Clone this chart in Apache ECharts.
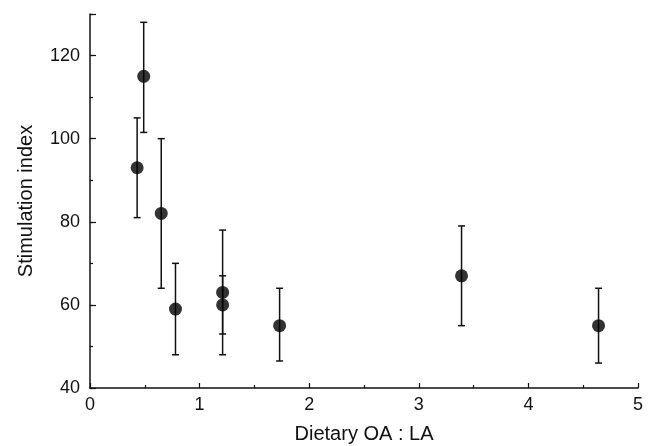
<!DOCTYPE html>
<html>
<head>
<meta charset="utf-8">
<script src="https://cdn.jsdelivr.net/npm/echarts@6/dist/echarts.min.js"></script>
<style>html,body{margin:0;padding:0;background:#fff}#c{width:652px;height:446px}</style>
</head>
<body>
<div id="c"></div>
<script>
var xValues = [0.43, 0.49, 0.65, 0.78, 1.21, 1.21, 1.73, 3.39, 4.64];
var means   = [93, 115, 82, 59, 63, 60, 55, 67, 55];
var upper   = [105, 128, 100, 70, 78, 67, 64, 79, 64];
var lower   = [81, 101.5, 64, 48, 48, 53, 46.5, 55, 46];
var xTickLabels = ['0', '1', '2', '3', '4', '5'];
var yTickLabels = ['40', '60', '80', '100', '120'];

var pts = xValues.map(function (x, i) { return [x, means[i]]; });
var bars = xValues.map(function (x, i) { return [x, lower[i], upper[i]]; });
var font = 'Liberation Sans, Arial, Helvetica, sans-serif';

var chart = echarts.init(document.getElementById('c'), null, {renderer: 'canvas'});
chart.setOption({
  animation: false,
  backgroundColor: '#fff',
  grid: {left: 90, right: 14, top: 14, bottom: 58, containLabel: false, outerBoundsMode: 'none'},
  xAxis: {
    type: 'value', min: 0, max: 5, interval: 1,
    name: 'Dietary OA : LA', nameLocation: 'middle', nameGap: 36,
    nameTextStyle: {fontFamily: font, fontSize: 20, color: '#111'},
    axisLine: {show: true, onZero: false, lineStyle: {color: '#111', width: 1.5}},
    axisTick: {show: true, inside: true, length: 5, lineStyle: {color: '#111', width: 1.2}},
    minorTick: {show: true, splitNumber: 2, length: 3, lineStyle: {color: '#111', width: 1.2}},
    splitLine: {show: false},
    axisLabel: {fontFamily: font, fontSize: 18, color: '#111', margin: 8,
      formatter: function (v) { var i = xTickLabels.indexOf(String(v)); return i >= 0 ? xTickLabels[i] : ''; }}
  },
  yAxis: [{
    type: 'value', min: 40, max: 130, interval: 10,
    name: 'Stimulation index', nameLocation: 'middle', nameGap: 54,
    nameTextStyle: {fontFamily: font, fontSize: 20, color: '#111'},
    axisLine: {show: true, onZero: false, lineStyle: {color: '#111', width: 1.5}},
    axisTick: {show: true, inside: true, length: 3, lineStyle: {color: '#111', width: 1.2}},
    splitLine: {show: false},
    axisLabel: {fontFamily: font, fontSize: 18, color: '#111', margin: 10,
      formatter: function (v) { var i = yTickLabels.indexOf(String(v)); return i >= 0 ? yTickLabels[i] : ''; }}
  }, {
    type: 'value', min: 40, max: 130, interval: 20, position: 'left', offset: 0,
    axisLine: {show: false},
    axisTick: {show: true, inside: true, length: 6, lineStyle: {color: '#111', width: 1.2}},
    splitLine: {show: false},
    axisLabel: {show: false}
  }],
  series: [{
    type: 'custom',
    data: bars,
    yAxisIndex: 0,
    renderItem: function (params, api) {
      var x = api.value(0);
      var lo = api.coord([x, api.value(1)]);
      var hi = api.coord([x, api.value(2)]);
      var w = 3.5;
      var st = {stroke: '#111', lineWidth: 1.5};
      return {type: 'group', children: [
        {type: 'line', shape: {x1: lo[0], y1: lo[1], x2: hi[0], y2: hi[1]}, style: st},
        {type: 'line', shape: {x1: hi[0] - w, y1: hi[1], x2: hi[0] + w, y2: hi[1]}, style: st},
        {type: 'line', shape: {x1: lo[0] - w, y1: lo[1], x2: lo[0] + w, y2: lo[1]}, style: st}
      ]};
    },
    z: 2
  }, {
    type: 'scatter',
    data: pts,
    yAxisIndex: 0,
    symbol: 'circle',
    symbolSize: 13,
    itemStyle: {color: '#000'},
    z: 3
  }]
});
</script>
</body>
</html>
